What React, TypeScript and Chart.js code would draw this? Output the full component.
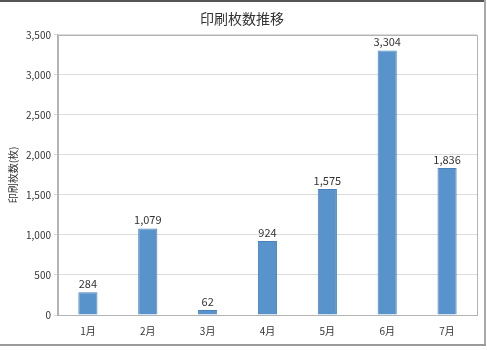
import React, { useEffect, useRef } from "react";
import { Chart, registerables } from "chart.js";

Chart.register(...registerables);

const categories = ["1月", "2月", "3月", "4月", "5月", "6月", "7月"];
const printCounts = [284, 1079, 62, 924, 1575, 3304, 1836];
const yTicks = [0, 500, 1000, 1500, 2000, 2500, 3000, 3500];

const FONT = "'Noto Sans CJK JP', 'Noto Sans', sans-serif";

const framePlugin = {
  id: "frame",
  beforeDraw(chart: any) {
    const { ctx, width, height } = chart;
    ctx.save();
    ctx.fillStyle = "#ffffff";
    ctx.fillRect(0, 0, width, height);
    ctx.fillStyle = "#555555";
    ctx.fillRect(0, 0, 486, 2);
    ctx.fillStyle = "#a8a8a8";
    ctx.fillRect(484, 0, 2, 346);
    ctx.fillStyle = "#9a9a9a";
    ctx.fillRect(0, 344, 486, 2);
    ctx.restore();
  },
  afterDatasetsDraw(chart: any) {
    const { ctx, chartArea } = chart;
    ctx.save();
    ctx.strokeStyle = "#b4b4b4";
    ctx.lineWidth = 1;
    ctx.strokeRect(
      Math.round(chartArea.left) + 0.5,
      Math.round(chartArea.top) + 0.5,
      Math.round(chartArea.right - chartArea.left),
      Math.round(chartArea.bottom - chartArea.top)
    );
    const meta = chart.getDatasetMeta(0);
    ctx.fillStyle = "#333333";
    ctx.font = `11px ${FONT}`;
    ctx.textAlign = "center";
    ctx.textBaseline = "bottom";
    meta.data.forEach((bar: any, i: number) => {
      const v = chart.data.datasets[0].data[i] as number;
      ctx.fillText(v.toLocaleString("en-US"), bar.x, bar.y - 3);
    });
    ctx.restore();
  },
};

export default function App() {
  const ref = useRef<HTMLCanvasElement | null>(null);
  useEffect(() => {
    if (!ref.current) return;
    const chart = new Chart(ref.current, {
      type: "bar",
      data: {
        labels: categories,
        datasets: [
          {
            data: printCounts,
            backgroundColor: "#5893cb",
            borderColor: "#4a82bc",
            borderWidth: 1,
            barPercentage: 0.32,
            categoryPercentage: 1,
          },
        ],
      },
      options: {
        animation: false,
        responsive: false,
        maintainAspectRatio: false,
        layout: { padding: { left: 7, right: 10, top: 6, bottom: 11 } },
        plugins: {
          legend: { display: false },
          tooltip: { enabled: false },
          title: {
            display: true,
            text: "印刷枚数推移",
            color: "#333333",
            font: { family: FONT, size: 14, weight: "normal" },
            padding: { top: 4, bottom: 8 },
          },
        },
        scales: {
          x: {
            grid: { display: false },
            border: { color: "#b4b4b4" },
            ticks: {
              color: "#333333",
              font: { family: FONT, size: 10 },
              padding: 2,
            },
          },
          y: {
            min: 0,
            max: 3500,
            afterBuildTicks(axis: any) {
              axis.ticks = yTicks.map((v) => ({ value: v }));
            },
            grid: { color: "#dcdcdc", drawTicks: true, tickLength: 4 },
            border: { color: "#b4b4b4" },
            ticks: {
              color: "#333333",
              font: { family: FONT, size: 10 },
              padding: 3,
              callback: (v: any) => Number(v).toLocaleString("en-US"),
            },
            title: {
              display: true,
              text: "印刷枚数(枚)",
              color: "#333333",
              font: { family: FONT, size: 10 },
              padding: { top: 0, bottom: 4 },
            },
          },
        },
      },
      plugins: [framePlugin],
    });
    return () => chart.destroy();
  }, []);
  return (
    <div style={{ position: "absolute", left: 0, top: 0, width: 487, height: 350 }}>
      <canvas ref={ref} width={487} height={350} style={{ display: "block" }} />
    </div>
  );
}
